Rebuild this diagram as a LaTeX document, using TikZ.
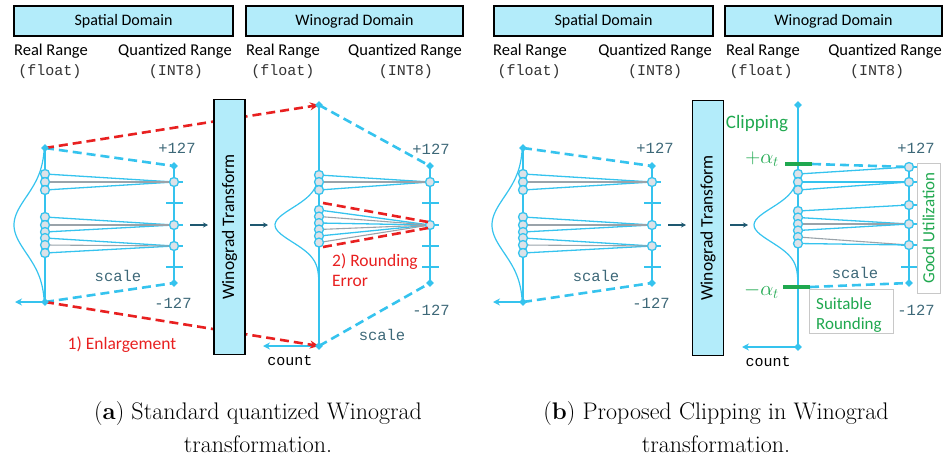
\documentclass[tikz,border=0pt]{standalone}
\usepackage{fontspec}
\newfontfamily\mysans{Carlito}
\newfontfamily\mymono{Liberation Mono}
\usetikzlibrary{shapes.geometric,arrows.meta}
\pgfdeclarelayer{back}
\pgfsetlayers{back,main}
\definecolor{cb}{HTML}{35C3EE}
\definecolor{cbox}{HTML}{B3ECFA}
\definecolor{cdot}{HTML}{DDE2E8}
\definecolor{cgr}{HTML}{9AA3AA}
\definecolor{cred}{HTML}{E82020}
\definecolor{cgreen}{HTML}{1FA84F}
\definecolor{cteal}{HTML}{3D6878}
\definecolor{cdark}{HTML}{1E5870}
\definecolor{cbord}{HTML}{C8C8C8}
\definecolor{ctxt}{HTML}{333333}
\begin{document}
\begin{tikzpicture}[x=1pt,y=-1pt,
  hdr/.style={draw=black,line width=1.3pt,fill=cbox,minimum width=#1,minimum height=30pt,inner sep=0pt,font=\mysans\fontsize{16}{18}\selectfont},
  lab/.style={font=\mysans\fontsize{16.5}{18}\selectfont,inner sep=0pt},
  mlab/.style={font=\mymono\fontsize{15}{17}\selectfont,inner sep=0pt,text=ctxt},
  qlab/.style={font=\mymono\fontsize{15.5}{17}\selectfont,inner sep=0pt,text=cteal},
  ax/.style={draw=cb,line width=2.6pt},
  tk/.style={draw=cb,line width=1.8pt},
  ln/.style={draw=cb,line width=1.3pt},
  lng/.style={draw=cgr,line width=1.1pt},
  bdash/.style={draw=cb,line width=2.6pt,dash pattern=on 9pt off 5pt},
  rdash/.style={draw=cred,line width=2.6pt,dash pattern=on 9pt off 5pt},
  dot/.style={circle,draw=cb,fill=cdot,line width=1.3pt,inner sep=0pt,minimum size=9pt},
  dia/.style={diamond,fill=cb,inner sep=0pt,minimum size=8pt},
  curve/.style={draw=cb,line width=1.2pt},
  small/.style={draw=cdark,line width=1.3pt,-{Stealth[length=5pt,width=5pt]}},
  wbox/.style={draw=black,line width=1.3pt,fill=cbox,minimum width=31pt,minimum height=255pt,inner sep=0pt,font=\mysans\fontsize{17.5}{19}\selectfont},
  gbox/.style={draw=cbord,line width=0.8pt,fill=white,inner sep=0pt},
  glab/.style={font=\mysans\fontsize{17}{20}\selectfont,text=cgreen,inner sep=0pt},
  rlab/.style={font=\mysans\fontsize{17.5}{20}\selectfont,text=cred,inner sep=0pt},
  captxt/.style={font=\fontsize{24}{33}\selectfont,inner sep=0pt}
]
\path[use as bounding box] (0,0) rectangle (951,463);

% ===== headers =====
\node[hdr=219pt] (hsa) at (123.5,21) {Spatial Domain};
\node[hdr=217pt] (hwa) at (354.5,21) {Winograd Domain};
\node[hdr=219pt] (hsb) at (603.5,21) {Spatial Domain};
\node[hdr=217pt] (hwb) at (833.5,21) {Winograd Domain};
\foreach \n/\rx/\qx/\fx/\ix in {a1/51/175/50/176, a2/283/405/283/406, b1/530/655/529/655, b2/763/885/761/877}{
  \node[lab] (rr\n) at (\rx,51) {Real Range};
  \node[lab] (qr\n) at (\qx,51) {Quantized Range};
  \node[mlab] (fl\n) at (\fx,72) {(float)};
  \node[mlab] (in\n) at (\ix,72) {(INT8)};
}

% ===== spatial parts =====
\foreach \sh/\pf in {0/sa, 478/sb}{
\begin{scope}[xshift=\sh pt, name prefix=\pf-]
  \coordinate (st) at (45,148);
  \coordinate (sb) at (45,302);
  \coordinate (sc) at (15,302);
  \coordinate (qt) at (174,166);
  \coordinate (qb) at (174,283);
  \coordinate (a0) at (190,225);
  \coordinate (a1) at (208,225);
  \foreach \y [count=\i] in {174,182,190,217,225,232,238,245,253}
    \node[dot] (l\i) at (45,\y) {};
  \node[dot] (r1) at (174,182) {};
  \node[dot] (r2) at (174,225) {};
  \node[dot] (r3) at (174,246) {};
  \node[dia] (dst) at (st) {};
  \node[dia] (dsb) at (sb) {};
  \node[dia] (dqt) at (qt) {};
  \node[dia] (dqb) at (qb) {};
  \begin{pgfonlayer}{back}
    \draw[curve] plot[domain=148:302,samples=80,variable=\t] ({45-31*exp(-((\t-225)/28)*((\t-225)/28)/2)},\t);
    \draw[ax] (st) -- (sb);
    \draw[ax] (qt) -- (qb);
    \foreach \y in {182,203,225,246,267} \draw[tk] (166,\y) -- (183,\y);
    \draw[bdash] (st) -- (qt);
    \draw[bdash] (sb) -- (qb);
    \draw[ax,-{Stealth[length=7pt,width=7pt]}] (sb) -- (sc);
    \foreach \i in {1,3} \draw[ln] (l\i.center) -- (r1.center);
    \draw[lng] (l2.center) -- (r1.center);
    \foreach \i in {4,6} \draw[ln] (l\i.center) -- (r2.center);
    \draw[lng] (l5.center) -- (r2.center);
    \foreach \i in {7,9} \draw[ln] (l\i.center) -- (r3.center);
    \draw[lng] (l8.center) -- (r3.center);
  \end{pgfonlayer}
  \draw[small] (a0) -- (a1);
  \node[qlab] (p127) at (177,148) {+127};
  \node[qlab] (m127) at (173,303) {-127};
  \node[qlab] (scl) at (118,276) {scale};
\end{scope}
}

% ===== Winograd transform boxes =====
\node[wbox] (wta) at (229.5,227) {\rotatebox{90}{Winograd Transform}};
\node[wbox] (wtb) at (708,228) {\rotatebox{90}{Winograd Transform}};

% ===== Winograd domain (a) =====
\coordinate (wat) at (319,105);
\coordinate (wab) at (319,346);
\coordinate (wac) at (263,346);
\coordinate (waqt) at (430,166);
\coordinate (waqb) at (430,283);
\coordinate (waa0) at (250,225);
\coordinate (waa1) at (268,225);
\foreach \y [count=\i] in {175,182,190,210,216.5,223,229.5,236,242.5}
  \node[dot] (wal\i) at (319,\y) {};
\node[dot] (war1) at (430,182) {};
\node[dot] (war2) at (430,225) {};
\node[dia] (dwat) at (wat) {};
\node[dia] (dwab) at (wab) {};
\node[dia] (dwaqt) at (waqt) {};
\node[dia] (dwaqb) at (waqb) {};
\coordinate (re1) at (323,203);
\coordinate (re2) at (428,222);
\coordinate (re3) at (323,247);
\coordinate (re4) at (428,228);
\begin{pgfonlayer}{back}
  \draw[curve] plot[domain=105:346,samples=100,variable=\t] ({319-44*exp(-((\t-225)/17)*((\t-225)/17)/2)},\t);
  \draw[ax] (wat) -- (wab);
  \draw[ax] (waqt) -- (waqb);
  \foreach \y in {182,203,225,246,267} \draw[tk] (422,\y) -- (439,\y);
  \draw[bdash] (wat) -- (waqt);
  \draw[bdash] (wab) -- (waqb);
  \draw[ax,-{Stealth[length=7pt,width=7pt]}] (wab) -- (wac);
  \foreach \i in {1,3} \draw[ln] (wal\i.center) -- (war1.center);
  \draw[lng] (wal2.center) -- (war1.center);
  \foreach \i in {4,6,8} \draw[ln] (wal\i.center) -- (war2.center);
  \foreach \i in {5,7,9} \draw[lng] (wal\i.center) -- (war2.center);
  \draw[rdash,-{Stealth[length=9pt,width=8pt]}] (sa-st) -- (wat);
  \draw[rdash,-{Stealth[length=9pt,width=8pt]}] (sa-sb) -- (wab);
\end{pgfonlayer}
\draw[rdash] (re1) -- (re2);
\draw[rdash] (re3) -- (re4);
\draw[small] (waa0) -- (waa1);
\node[qlab] (wap) at (431,149) {+127};
\node[qlab] (wam) at (431,310) {-127};
\node[qlab] (was) at (382,335) {scale};
\node[mlab,text=black] (wacnt) at (290,361) {count};
\node[rlab,anchor=west,align=left] (rnd) at (332,270) {2) Rounding\\Error};
\node[rlab] (enl) at (122,345) {1) Enlargement};

% ===== Winograd domain (b) =====
\coordinate (wbt) at (798,105);
\coordinate (wbb) at (798,347);
\coordinate (wbc) at (742,347);
\coordinate (wbqt) at (909,167);
\coordinate (wbqb) at (909,283);
\coordinate (wba0) at (730,225);
\coordinate (wba1) at (748,225);
\coordinate (cl1) at (785,164);
\coordinate (cl2) at (812,164);
\coordinate (cl3) at (783,287);
\coordinate (cl4) at (810,287);
\foreach \y [count=\i] in {174,182,190,211,217.5,224,230.5,237,243.5}
  \node[dot] (wbl\i) at (798,\y) {};
\foreach \y [count=\i] in {167,182,205,224,245}
  \node[dot] (wbr\i) at (909,\y) {};
\node[dia] (dwbt) at (wbt) {};
\node[dia] (dwbb) at (wbb) {};
\node[dia] (dwbqb) at (wbqb) {};
\begin{pgfonlayer}{back}
  \draw[curve] plot[domain=105:347,samples=100,variable=\t] ({798-44*exp(-((\t-225)/17)*((\t-225)/17)/2)},\t);
  \draw[ax] (wbt) -- (wbb);
  \draw[ax] (wbqt) -- (wbqb);
  \foreach \y in {167,182,205,224,245,267} \draw[tk] (901,\y) -- (918,\y);
  \draw[bdash] (cl2) -- (wbqt);
  \draw[bdash] (cl4) -- (wbqb);
  \draw[ax,-{Stealth[length=7pt,width=7pt]}] (wbb) -- (wbc);
  \draw[ln] (wbl1.center) -- (wbr1.center);
  \draw[ln] (wbl2.center) -- (wbr2.center);
  \draw[ln] (wbl3.center) -- (wbr2.center);
  \draw[ln] (wbl4.center) -- (wbr3.center);
  \draw[ln] (wbl5.center) -- (wbr4.center);
  \draw[lng] (wbl6.center) -- (wbr4.center);
  \draw[ln] (wbl7.center) -- (wbr4.center);
  \draw[lng] (wbl8.center) -- (wbr5.center);
  \draw[ln] (wbl9.center) -- (wbr5.center);
\end{pgfonlayer}
\draw[draw=cgreen,line width=3.5pt] (cl1) -- (cl2);
\draw[draw=cgreen,line width=3.5pt] (cl3) -- (cl4);
\draw[small] (wba0) -- (wba1);
\node[qlab] (wbp) at (916,148) {+127};
\node[qlab] (wbm) at (916,310) {-127};
\node[qlab] (wbs) at (855,273) {scale};
\node[mlab,text=black] (wbcnt) at (768,362) {count};
\node[glab,font=\mysans\fontsize{19}{21}\selectfont] (clip) at (757,124) {Clipping};
\node[glab,anchor=east,font=\fontsize{22}{24}\selectfont] (pa) at (779,159) {$+\alpha_t$};
\node[glab,anchor=east,font=\fontsize{22}{24}\selectfont] (ma) at (779,291) {$-\alpha_t$};
\node[gbox,minimum width=23pt,minimum height=130pt] (gu) at (928.5,228) {};
\node[glab] (gut) at (gu.center) {\rotatebox{90}{Good Utilization}};
\node[gbox,minimum width=84pt,minimum height=44pt] (sr) at (851,311) {};
\node[glab,anchor=west,align=left] (srt) at (816,315) {Suitable\\Rounding};

% ===== captions =====
\node[captxt,align=center] (capa) at (258,427) {(\textbf{a}) Standard quantized Winograd\\transformation.};
\node[captxt,align=center] (capb) at (716,427) {(\textbf{b}) Proposed Clipping in Winograd\\transformation.};
\end{tikzpicture}
\end{document}
